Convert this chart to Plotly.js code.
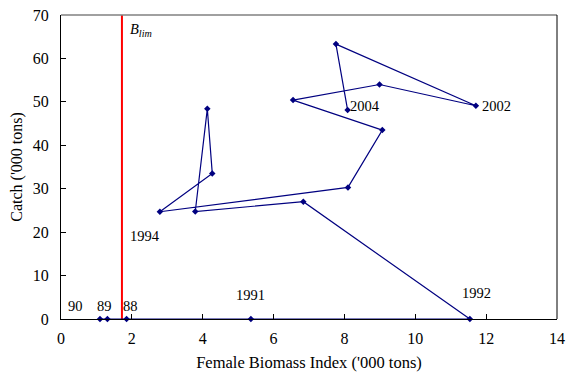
<!DOCTYPE html>
<html>
<head>
<meta charset="utf-8">
<script src="https://cdn.plot.ly/plotly-3.0.1.min.js"></script>
<style>html,body{margin:0;padding:0;background:#fff;}#chart{width:568px;height:374px;}</style>
</head>
<body>
<div id="chart"></div>
<script>
// Years in sequence
const years = [1988,1989,1990,1991,1992,1993,1994,1995,1996,1997,1998,1999,2000,2001,2002,2003,2004];
// Female biomass index ('000 tons)
const biomass = [1.85,1.31,1.10,5.36,11.54,6.84,3.79,4.13,4.27,2.79,8.10,9.07,6.55,8.99,11.71,7.76,8.09];
// Catch ('000 tons)
const catchVals = [0,0,0,0,0,27.0,24.75,48.4,33.5,24.7,30.3,43.5,50.4,54.0,49.1,63.3,48.1];
// Blim reference point
const blim = 1.72;
// Point labels (text, x, y in data units)
const labelText = ["90","89","88","1991","1992","1994","2004","2002"];
const labelX = [0.40,1.24,1.96,5.34,11.73,2.37,8.57,12.28];
const labelY = [3.1,2.9,2.9,5.5,6.0,19.2,49.1,49.1];

const serif = "Liberation Serif";
const fs = 14.5;
const axfs = 16;

const traces = [
  {x:[blim,blim], y:[0,70], mode:'lines', line:{color:'#ff0000', width:2}, hoverinfo:'skip', cliponaxis:false},
  {x:biomass, y:catchVals, mode:'lines+markers', line:{color:'#000080', width:1.2},
   marker:{symbol:'diamond', size:5, color:'#000080'}, cliponaxis:false}
];

const annotations = labelText.map((t,i)=>({
  x:labelX[i], y:labelY[i], xref:'x', yref:'y', text:t, showarrow:false,
  font:{family:serif, size:fs, color:'#000'}, xanchor:'center', yanchor:'middle'
}));
annotations.push({
  x:1.88, y:66.5, xref:'x', yref:'y', xanchor:'left', yanchor:'middle', showarrow:false,
  text:"<i>B</i><sub><i>lim</i></sub>", font:{family:serif, size:fs, color:'#000'}
});

const layout = {
  width:568, height:374,
  margin:{l:61, r:11, t:15, b:55},
  paper_bgcolor:'#fff', plot_bgcolor:'#fff',
  showlegend:false,
  font:{family:serif, size:axfs, color:'#000'},
  xaxis:{range:[0,14], dtick:2, tick0:0, ticks:'inside', ticklen:5, tickcolor:'#000',
    showline:true, linecolor:'#000', linewidth:1, showgrid:false, zeroline:false, ticklabelstandoff:5,
    tickfont:{family:serif, size:axfs}, title:{text:"Female Biomass Index ('000 tons)", font:{family:serif, size:16.5}, standoff:10}},
  yaxis:{range:[0,70], dtick:10, tick0:0, ticks:'inside', ticklen:5, tickcolor:'#000',
    showline:true, linecolor:'#000', linewidth:1, showgrid:false, zeroline:false, ticklabelstandoff:8,
    tickfont:{family:serif, size:axfs}, title:{text:"Catch ('000 tons)", font:{family:serif, size:axfs}, standoff:6}},
  shapes:[
    {type:'line', xref:'paper', yref:'paper', x0:0, x1:1, y0:1, y1:1, line:{color:'#808080', width:1.5}},
    {type:'line', xref:'paper', yref:'paper', x0:1, x1:1, y0:0, y1:1, line:{color:'#000', width:1}}
  ],
  annotations:annotations
};

Plotly.newPlot('chart', traces, layout, {displayModeBar:false, staticPlot:true});
</script>
</body>
</html>
